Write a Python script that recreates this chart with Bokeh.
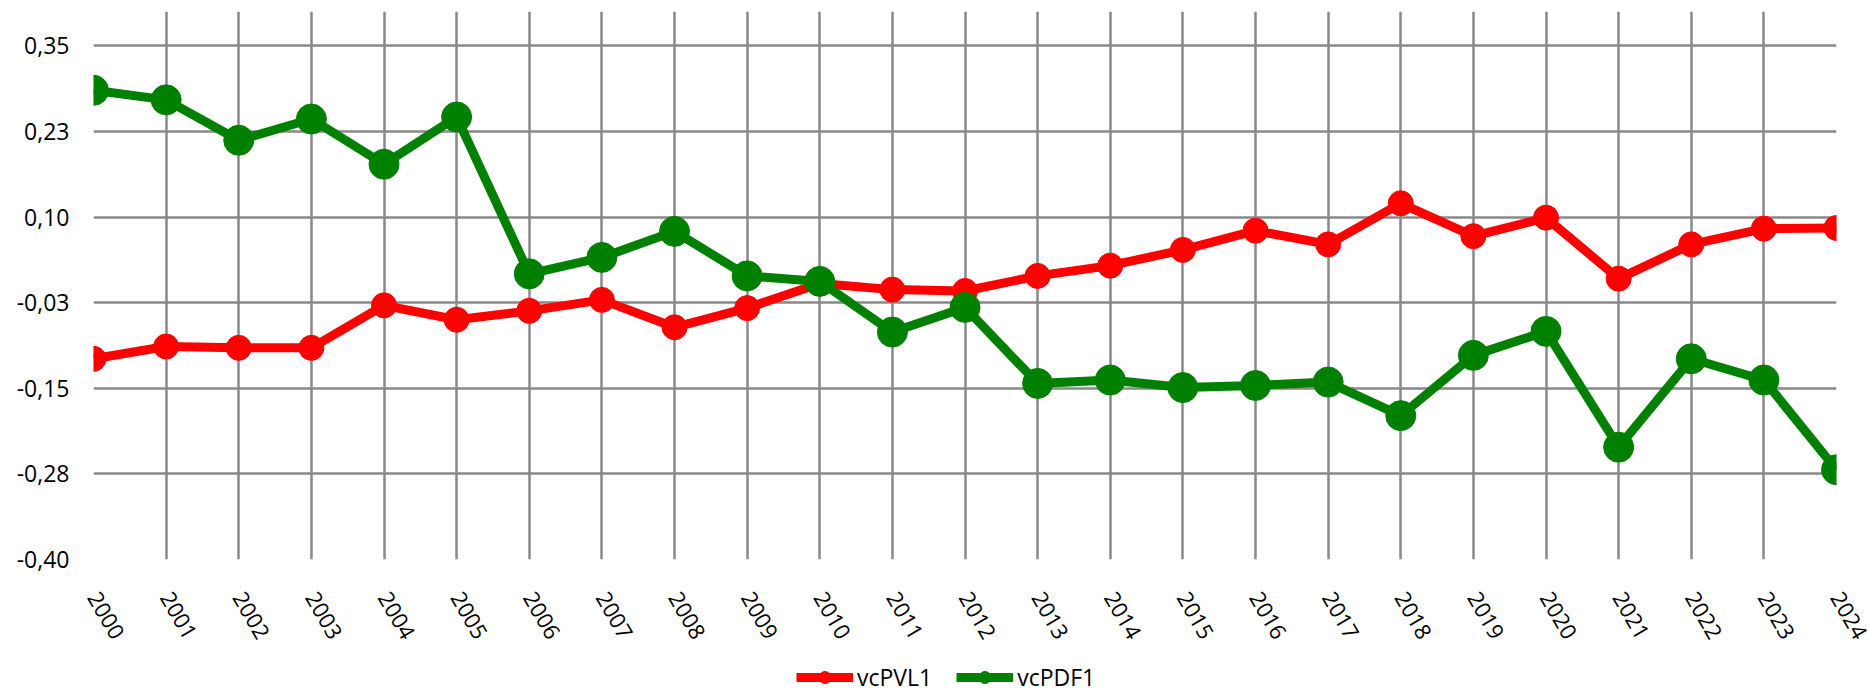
import math
from bokeh.plotting import figure
from bokeh.layouts import column
from bokeh.models import Range1d, FixedTicker, Legend, LegendItem, ColumnDataSource
from bokeh.embed import file_html
from bokeh.resources import INLINE

# ---- data ----
years = list(range(2000, 2025))
year_labels = [str(y) for y in years]
vcPVL1 = [-0.107, -0.089, -0.091, -0.091, -0.029, -0.050, -0.037, -0.021, -0.061, -0.033,
          0.003, -0.006, -0.008, 0.014, 0.029, 0.052, 0.080, 0.060, 0.120, 0.072,
          0.099, 0.010, 0.060, 0.083, 0.084]
vcPDF1 = [0.285, 0.271, 0.212, 0.243, 0.177, 0.246, 0.017, 0.041, 0.079, 0.014,
          0.006, -0.068, -0.032, -0.143, -0.138, -0.149, -0.146, -0.141, -0.190, -0.102,
          -0.067, -0.236, -0.107, -0.138, -0.269]
y_ticks = [-0.40, -0.275, -0.15, -0.025, 0.10, 0.225, 0.35]
y_tick_labels = ["-0,40", "-0,28", "-0,15", "-0,03", "0,10", "0,23", "0,35"]
series_names = ["vcPVL1", "vcPDF1"]
series_colors = ["#ff0000", "#008000"]
marker_sizes = [25, 30]

src = ColumnDataSource(dict(x=years, pvl=vcPVL1, pdf=vcPDF1))

FONT = "Open Sans"
GRID = "#898989"
LW = 9

p = figure(width=1868, height=662,
           x_range=Range1d(2000, 2024), y_range=Range1d(-0.40, 0.40),
           output_backend="svg", toolbar_location=None,
           min_border_left=93, min_border_right=32, min_border_top=11, min_border_bottom=103)
p.outline_line_color = None
p.background_fill_color = "white"
p.border_fill_color = "white"

xt = FixedTicker(ticks=years)
yt = FixedTicker(ticks=y_ticks)
p.xaxis.ticker = xt
p.xgrid.ticker = xt
p.yaxis.ticker = yt
p.ygrid.ticker = yt
p.xaxis.major_label_overrides = {y: s for y, s in zip(years, year_labels)}
p.yaxis.major_label_overrides = {v: s for v, s in zip(y_ticks, y_tick_labels)}

for g in (p.xgrid, p.ygrid):
    g.grid_line_color = GRID
    g.grid_line_width = 2.5
    g.grid_line_alpha = 1.0

for ax in (p.xaxis, p.yaxis):
    ax.axis_line_color = None
    ax.major_tick_line_color = None
    ax.minor_tick_line_color = None
    ax.major_tick_out = 0
    ax.major_tick_in = 0
    ax.major_label_text_font = FONT
    ax.major_label_text_color = "black"

p.yaxis.major_label_text_font_size = "23px"
p.xaxis.major_label_text_font_size = "22px"
p.yaxis.major_label_standoff = 24
p.xaxis.major_label_standoff = 34
p.xaxis.major_label_orientation = -math.pi / 3

p.line("x", "pvl", source=src, line_color=series_colors[0], line_width=LW)
p.scatter("x", "pvl", source=src, size=marker_sizes[0],
          fill_color=series_colors[0], line_color=series_colors[0])
p.line("x", "pdf", source=src, line_color=series_colors[1], line_width=LW)
p.scatter("x", "pdf", source=src, size=marker_sizes[1],
          fill_color=series_colors[1], line_color=series_colors[1])

# ---- legend strip below the chart ----
pl = figure(width=1868, height=31, x_axis_type=None, y_axis_type=None,
            x_range=Range1d(0, 1), y_range=Range1d(0, 1),
            output_backend="svg", toolbar_location=None, min_border=0)
pl.outline_line_color = None
pl.grid.visible = False

items = []
for name, col, ms in zip(series_names, series_colors, marker_sizes):
    esrc = ColumnDataSource(dict(x=[float("nan")], y=[float("nan")]))
    l = pl.line("x", "y", source=esrc, line_color=col, line_width=LW)
    s = pl.scatter("x", "y", source=esrc, size=ms, fill_color=col, line_color=col)
    items.append(LegendItem(label=name, renderers=[l, s]))

legend = Legend(items=items, orientation="horizontal", location=(703, 0),
                padding=0, margin=0, spacing=24, label_standoff=4,
                glyph_width=57, glyph_height=30,
                border_line_color=None, background_fill_alpha=0,
                label_text_font=FONT, label_text_font_size="23px",
                label_text_color="black")
pl.add_layout(legend)

layout = column(p, pl, spacing=0)
open("out.html", "w").write(file_html(layout, INLINE))
